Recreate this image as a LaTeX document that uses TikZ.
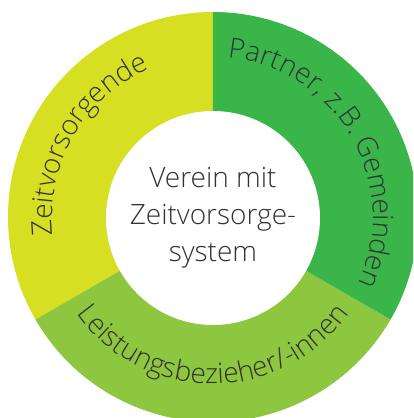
\documentclass[tikz,border=0pt]{standalone}
\usepackage{fontspec}
\IfFontExistsTF{Open Sans Light}{\setmainfont{Open Sans Light}}{\setmainfont{Open Sans}}
\usetikzlibrary{decorations.text}
\definecolor{vorsorgegelb}{HTML}{D7DF23}
\definecolor{partnergruen}{HTML}{3AB54A}
\definecolor{bezugsgruen}{HTML}{8DC63F}
\definecolor{schrift}{HTML}{333333}
\tikzset{
    ringtext/.style={decorate, decoration={text along path, text align=center,
        text={|\fontsize{28}{34}\selectfont\color{schrift}|#1}}},
    verein/.style={circle, fill=white, minimum size=214pt, inner sep=0pt, align=center,
        text=schrift, font=\fontsize{28}{37}\selectfont}
}

\begin{document}
\begin{tikzpicture}
    \clip (-213pt,-201pt) rectangle (200pt,217pt);
    % the three groups around the ring
    \fill[vorsorgegelb] (0,0) -- (90:205pt) arc[start angle=90, end angle=210, radius=205pt] -- cycle;
    \fill[bezugsgruen] (0,0) -- (210:205pt) arc[start angle=210, end angle=330, radius=205pt] -- cycle;
    \fill[partnergruen] (0,0) -- (330:205pt) arc[start angle=-30, end angle=90, radius=205pt] -- cycle;

    \node[verein] (mitte) at (0,-1pt) {Verein mit\\Zeitvorsorge-\\system};

    \path[ringtext={Zeitvorsorgende}] (210:161pt) arc[start angle=210, end angle=90, radius=161pt];
    \path[ringtext={Partner, z.B. Gemeinden}] (90:160pt) arc[start angle=90, end angle=-30, radius=160pt];
    \path[ringtext={Leistungsbezieher/-innen}] (210:167pt) arc[start angle=210, end angle=330, radius=167pt];
\end{tikzpicture}
\end{document}
